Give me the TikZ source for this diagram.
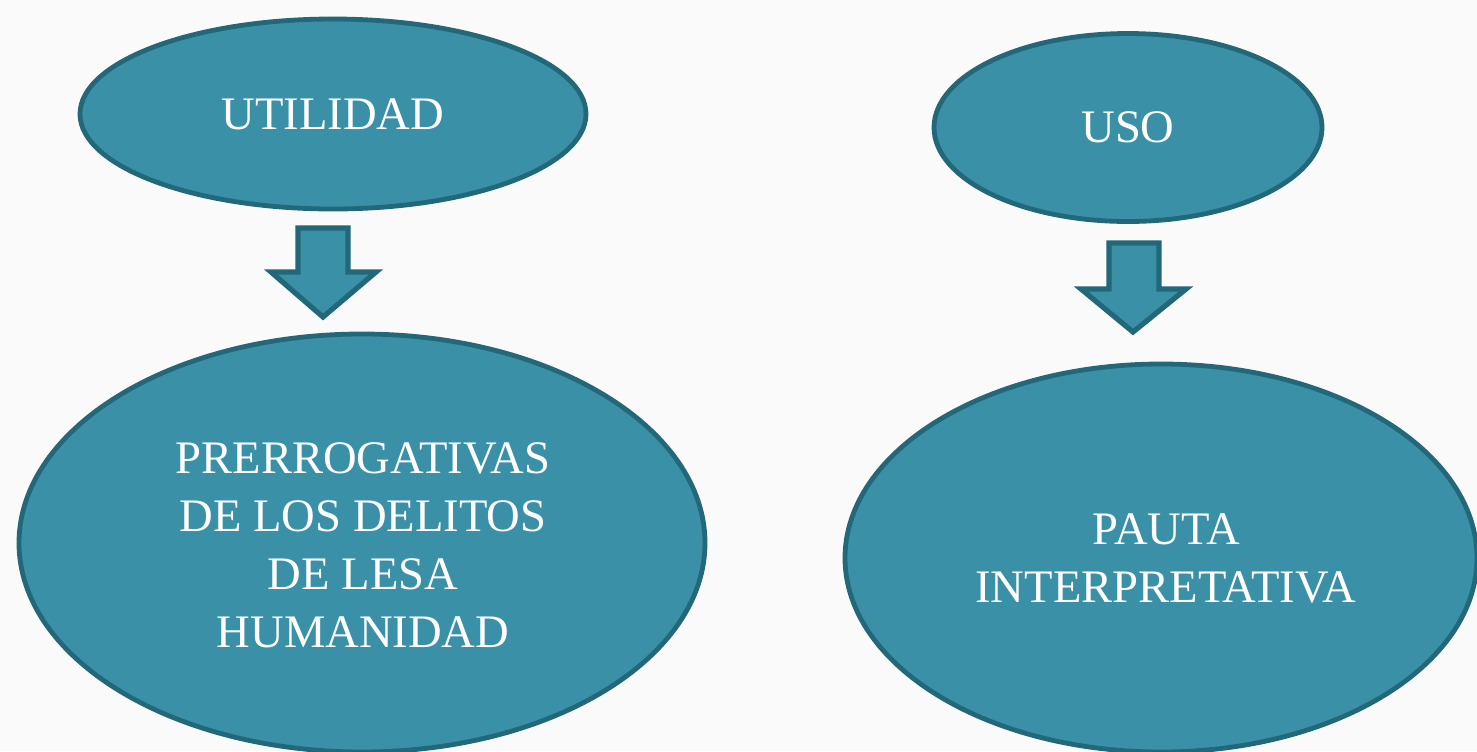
\documentclass[tikz,border=0pt]{standalone}
\usepackage{fontspec}
\setmainfont{Liberation Serif}
\usetikzlibrary{shapes.geometric}
\definecolor{tealfill}{RGB}{58,144,167}
\definecolor{tealline}{RGB}{35,104,120}
\definecolor{bgpaper}{RGB}{250,250,250}
\begin{document}
\begin{tikzpicture}[x=0.5pt,y=-0.5pt,
  oval/.style={ellipse,draw=tealline,fill=tealfill,line width=2.4pt,inner sep=0pt},
  lbl/.style={text=white,align=center,font=\fontsize{23.3}{29}\selectfont},
  blockarrow/.style={draw=tealline,fill=tealfill,line width=2.6pt,line join=miter}]
\useasboundingbox (0,0) rectangle (1477,751);
\fill[bgpaper] (0,0) rectangle (1477,751);
\clip (0,0) rectangle (1477,751);
% ellipses
\node[oval,minimum width=253pt,minimum height=95pt] (util) at (333,114) {};
\node[lbl] (utilt) at (333,114) {UTILIDAD};
\node[oval,minimum width=194pt,minimum height=94pt] (uso) at (1128,127.5) {};
\node[lbl] (usot) at (1128,127.5) {USO};
\node[oval,minimum width=343pt,minimum height=209pt] (prer) at (362,543) {};
\node[lbl] (prert) at (363,545) {PRERROGATIVAS\\DE LOS DELITOS\\DE LESA\\HUMANIDAD};
\node[oval,minimum width=316pt,minimum height=194pt] (pauta) at (1161,558) {};
\node[lbl] (pautat) at (1166,558) {PAUTA\\INTERPRETATIVA};
% block arrows
\draw[blockarrow] (298,228) -- (348,228) -- (348,272) -- (376,272) -- (323,317) -- (271,272) -- (298,272) -- cycle;
\draw[blockarrow] (1109,243) -- (1159,243) -- (1159,289) -- (1186,289) -- (1133,332) -- (1081,289) -- (1109,289) -- cycle;
\end{tikzpicture}
\end{document}
